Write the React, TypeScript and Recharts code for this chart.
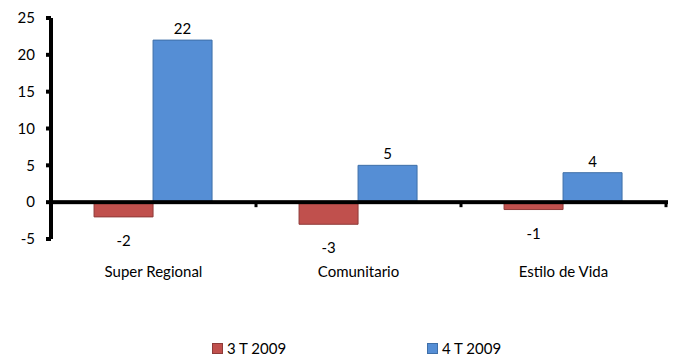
import React from "react";
import {
  BarChart,
  Bar,
  XAxis,
  YAxis,
  Legend,
  LabelList,
  ReferenceLine,
} from "recharts";

const categories = ["Super Regional", "Comunitario", "Estilo de Vida"];
const q3Values = [-2, -3, -1];
const q4Values = [22, 5, 4];
const yTicks = [-5, 0, 5, 10, 15, 20, 25];

const SERIES = [
  { key: "q3", name: "3 T 2009", fill: "#C0504D", stroke: "#8E3B39" },
  { key: "q4", name: "4 T 2009", fill: "#558ED5", stroke: "#3F6FA8" },
];

const data = categories.map((c, i) => ({
  category: c,
  q3: q3Values[i],
  q4: q4Values[i],
}));

const FONT = "Lato, 'Open Sans', sans-serif";
const AXIS_W = 4;

// zero line with small tick marks at the category boundaries
const ZeroLine = (props: any) => {
  const { x1, x2, y1 } = props;
  const n = categories.length;
  const step = (x2 - x1) / n;
  const marks = [];
  for (let i = 1; i <= n; i++) {
    const x = x1 + step * i;
    marks.push(
      <rect key={i} x={x - 1.5} y={y1} width={3} height={5} fill="#000" />
    );
  }
  return (
    <g>
      <rect x={x1 - 2} y={y1 - AXIS_W / 2} width={x2 - x1 + 4} height={AXIS_W} fill="#000" />
      {marks}
    </g>
  );
};

// value label outside the bar end, above for positive and below for negative
const ValueLabel = (props: any) => {
  const { x, y, width, height, value } = props;
  const top = Math.min(y, y + height);
  const bottom = Math.max(y, y + height);
  const cx = x + width / 2;
  const ty = value < 0 ? bottom + 23 : top - 12;
  return (
    <text
      x={cx}
      y={ty}
      textAnchor="middle"
      dominantBaseline="central"
      fill="#000"
      fontSize={15}
      fontFamily={FONT}
    >
      {value}
    </text>
  );
};

const LegendContent = ({ payload }: any) => (
  <div
    style={{
      display: "flex",
      justifyContent: "flex-start",
      paddingLeft: 212,
      fontFamily: FONT,
      fontSize: 15,
      color: "#000",
    }}
  >
    {(payload || []).map((p: any, i: number) => {
      const s = SERIES.find((x) => x.key === p.dataKey) || SERIES[i];
      return (
        <div
          key={s.key}
          style={{ display: "flex", alignItems: "center", width: 215 }}
        >
          <span
            style={{
              display: "inline-block",
              width: 9,
              height: 9,
              background: s.fill,
              border: `1px solid ${s.stroke}`,
              marginRight: 4,
            }}
          />
          <span>{s.name}</span>
        </div>
      );
    })}
  </div>
);

export default function App() {
  return (
    <div style={{ position: "absolute", left: 0, top: 0, background: "#fff" }}>
      <BarChart
        width={675}
        height={361}
        data={data}
        margin={{ top: 18, right: 9, left: 0, bottom: 0 }}
        barCategoryGap="21%"
        barGap={0}
      >
        <YAxis
          width={51}
          domain={[-5, 25]}
          ticks={yTicks}
          interval={0}
          axisLine={{ stroke: "#000", strokeWidth: AXIS_W }}
          tickLine={{ stroke: "#000", strokeWidth: AXIS_W }}
          tickSize={5}
          tickMargin={11}
          tick={{ fill: "#000", fontSize: 15, fontFamily: FONT }}
        />
        <XAxis
          dataKey="category"
          axisLine={false}
          tickLine={false}
          tickSize={0}
          tickMargin={27}
          height={100}
          tick={{ fill: "#000", fontSize: 15, fontFamily: FONT }}
        />
        <Legend
          verticalAlign="bottom"
          height={22}
          wrapperStyle={{ top: 339 }}
          content={<LegendContent />}
        />
        {SERIES.map((s) => (
          <Bar
            key={s.key}
            dataKey={s.key}
            name={s.name}
            fill={s.fill}
            stroke={s.stroke}
            strokeWidth={1}
            isAnimationActive={false}
          >
            <LabelList dataKey={s.key} content={<ValueLabel />} />
          </Bar>
        ))}
        <ReferenceLine y={0} shape={<ZeroLine />} />
      </BarChart>
    </div>
  );
}
